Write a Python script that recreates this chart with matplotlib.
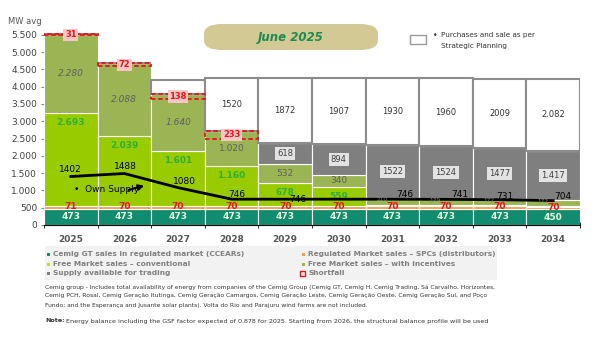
import matplotlib.pyplot as plt
from matplotlib.patches import Rectangle, FancyBboxPatch

years = ['2025', '2026', '2027', '2028', '2029', '2030', '2031', '2032', '2033', '2034']
ccear = [473, 473, 473, 473, 473, 473, 473, 473, 473, 450]
spcs = [71, 70, 70, 70, 70, 70, 70, 70, 70, 70]
free_conv = [2693, 2039, 1601, 1160, 678, 559, 30, 30, 30, 30]
free_inc = [2280, 2088, 1640, 1020, 532, 340, 210, 179, 172, 172]
trading = [0, 0, 0, 0, 618, 894, 1522, 1524, 1477, 1417]
shortfall = [31, 72, 138, 233, 0, 0, 0, 0, 0, 0]
planning = [0, 0, 410, 1520, 1872, 1907, 1930, 1960, 2009, 2082]
own_supply = [1402, 1488, 1080, 746, 746, 746, 746, 741, 731, 704]

C_TEAL = '#128C6E'
C_ORANGE = '#F0A050'
C_GREEN = '#99CC00'
C_OLIVE = '#9CB554'
C_GRAY = '#7F7F7F'
C_RED = '#E8141B'


def fmt(v, sep=True):
    s = str(int(v))
    if sep and v >= 1000:
        s = s[:-3] + '.' + s[-3:]
    return s


fig = plt.figure(figsize=(5.95, 3.38), dpi=100)
W, H = 595, 338
ax = fig.add_axes([44 / W, 1 - 225 / H, 536 / W, 197.2 / H])

x = list(range(len(years)))
bottom = [0] * len(years)


def stack(vals, color, edge='white', lw=0.8):
    global bottom
    ax.bar(x, vals, bottom=bottom, width=1.0, color=color, edgecolor=edge, linewidth=lw, zorder=2)
    mids = [b + v / 2 for b, v in zip(bottom, vals)]
    bottom = [b + v for b, v in zip(bottom, vals)]
    return mids


m_teal = stack(ccear, C_TEAL)
m_or = stack(spcs, C_ORANGE)
m_conv = stack(free_conv, C_GREEN)
conv_top = list(bottom)
m_inc = stack(free_inc, C_OLIVE)
m_tr = stack(trading, C_GRAY)
tops = list(bottom)
m_pl = stack(planning, 'white', edge='#8C8C8C', lw=1.5)

for i in x:
    ax.text(i, m_teal[i], fmt(ccear[i]), ha='center', va='center', color='#E8F5E0',
            fontsize=6.5, fontweight='bold', zorder=5)
    ax.text(i, m_or[i] + 20, fmt(spcs[i]), ha='center', va='center', color=C_RED,
            fontsize=6.5, fontweight='bold', zorder=5)
    if free_conv[i] > 100:
        ax.text(i, conv_top[i] - 270, fmt(free_conv[i]), ha='center', va='center', color='#2FAE3C',
                fontsize=6.5, fontweight='bold', zorder=5)
    if free_inc[i] > 250:
        ax.text(i, m_inc[i], fmt(free_inc[i]), ha='center', va='center', color='#5F5F5F',
                fontsize=6.5, style='italic' if i < 3 else 'normal', zorder=5)
    else:
        ax.text(i - 0.2, m_inc[i] + 50, fmt(free_inc[i]), ha='center', va='center', color='#8A8A7A',
                fontsize=4.2, zorder=9)
    if trading[i] > 0:
        ax.text(i, m_tr[i], fmt(trading[i], sep=(i == 9)), ha='center', va='center', color='#404040',
                fontsize=6, zorder=5,
                bbox=dict(boxstyle='square,pad=0.25', fc='#E3E3E3', ec='none'))
    if planning[i] > 500:
        ax.text(i, m_pl[i], fmt(planning[i], sep=(i == 9)), ha='center', va='center', color='#333333',
                fontsize=6, zorder=5)
    if shortfall[i] > 0:
        ax.add_patch(Rectangle((i - 0.5, tops[i] - shortfall[i]), 1.0, shortfall[i], fill=False,
                               ec=C_RED, lw=1.3, ls=(0, (2.5, 1.5)), zorder=6))
        ax.text(i, tops[i] - shortfall[i] / 2, fmt(shortfall[i]), ha='center', va='center',
                color=C_RED, fontsize=6, fontweight='bold', zorder=7,
                bbox=dict(boxstyle='square,pad=0.2', fc='#F9C6C6', ec='none'))

# own supply line
ax.plot(x, own_supply, color='black', lw=2, zorder=8)
lab_off = {0: (0, 1.5, 'bottom'), 1: (1, 1.5, 'bottom'), 2: (5, 1, 'bottom'), 3: (4, 0, 'bottom'),
           4: (9, 0, 'center'), 6: (9, 0, 'bottom'), 7: (10, 0, 'bottom'), 8: (4, -1, 'bottom'),
           9: (7, 0, 'bottom')}
for i, (dx, dy, va) in lab_off.items():
    ax.annotate(str(own_supply[i]), (x[i], own_supply[i]), xytext=(dx, dy), textcoords='offset points',
                ha='center', va=va, fontsize=6.5, color='black', zorder=9)
ax.text(0.06, 1040, '\u2022  Own Supply', fontsize=6.5, va='center', ha='left', zorder=9)
ax.annotate('', xy=(1.42, 1160), xytext=(1.03, 990),
            arrowprops=dict(arrowstyle='-|>', lw=1.5, color='black', mutation_scale=8), zorder=9)

ax.set_xlim(-0.5, 9.5)
ax.set_ylim(0, 5700)
ax.set_xticks(x)
ax.set_xticklabels(years)
ax.set_xticks([i - 0.5 for i in range(len(years) + 1)], minor=True)
ax.tick_params(axis='x', which='major', length=0, pad=7, labelsize=6.5, labelcolor='#555555')
ax.tick_params(axis='x', which='minor', length=4, direction='inout', color='black')
for lbl in ax.get_xticklabels():
    lbl.set_fontweight('bold')
yt = list(range(0, 5501, 500))
ax.set_yticks(yt)
ax.set_yticklabels([fmt(v) for v in yt])
ax.tick_params(axis='y', length=2, color='#808080', labelsize=6.5, labelcolor='#404040', pad=3)
for s in ['top', 'right', 'left']:
    ax.spines[s].set_visible(False)
ax.spines['bottom'].set_color('black')

fig.text(8 / W, 1 - 22 / H, 'MW avg', fontsize=6, color='#555555', va='center')

# title box
fig.patches.append(FancyBboxPatch((204 / W, 1 - 50 / H), 174 / W, 26 / H,
                                  boxstyle='round,pad=0,rounding_size=0.03', transform=fig.transFigure,
                                  fc='#D2C995', ec='none'))
fig.text(291 / W, 1 - 37 / H, 'June 2025', fontsize=8.5, style='italic', fontweight='bold',
         color='#1E8C4E', ha='center', va='center')

# top-right legend
fig.patches.append(Rectangle((410 / W, 1 - 44 / H), 16 / W, 9 / H, transform=fig.transFigure,
                             fc='white', ec='#999999', lw=1))
fig.text(433 / W, 1 - 35 / H, '\u2022', fontsize=5.5, color='#333333', va='center')
fig.text(441 / W, 1 - 35 / H, 'Purchases and sale as per', fontsize=5.2, color='#333333', va='center')
fig.text(441 / W, 1 - 46 / H, 'Strategic Planning', fontsize=5.2, color='#333333', va='center')

# bottom legend
fig.patches.append(Rectangle((45 / W, 1 - 280 / H), 452 / W, 34 / H, transform=fig.transFigure,
                             fc='#F2F2F2', ec='none'))
leg = [('Cemig GT sales in regulated market (CCEARs)', C_TEAL, 48, 254),
       ('Regulated Market sales \u2013 SPCs (distributors)', C_ORANGE, 303, 254),
       ('Free Market sales \u2013 conventional', '#CCDD00', 48, 264),
       ('Free Market sales \u2013 with incentives', C_OLIVE, 303, 264),
       ('Supply available for trading', C_GRAY, 48, 273)]
for txt, col, lx, ly in leg:
    fig.patches.append(Rectangle(((lx - 1.5) / W, 1 - (ly + 1.5) / H), 3 / W, 3 / H,
                                 transform=fig.transFigure, fc=col, ec='none'))
    fig.text((lx + 5) / W, 1 - ly / H, txt, fontsize=5.3, fontweight='bold', color='#7F7F7F', va='center')
fig.patches.append(Rectangle((300 / W, 1 - 276 / H), 5 / W, 5 / H, transform=fig.transFigure,
                             fc='none', ec=C_RED, lw=1))
fig.text(308 / W, 1 - 273 / H, 'Shortfall', fontsize=5.3, fontweight='bold', color='#7F7F7F', va='center')

foot = ['Cemig group - Includes total availability of energy from companies of the Cemig Group (Cemig GT, '
        'Cemig H, Cemig Trading, S\u00e1 Carvalho, Horizontes,',
        'Cemig PCH, Rosal, Cemig Gera\u00e7\u00e3o Itutinga, Cemig Gera\u00e7\u00e3o Camargos, Cemig Gera\u00e7\u00e3o '
        'Leste, Cemig Gera\u00e7\u00e3o Oeste, Cemig Gera\u00e7\u00e3o Sul, and Po\u00e7o',
        'Fundo; and the Esperan\u00e7a and Jusante solar plants). Volta do Rio and Parajuru wind farms are not included.']
for k, line in enumerate(foot):
    fig.text(45 / W, 1 - (287 + 9 * k) / H, line, fontsize=4.3, color='#333333', va='center')
fig.text(45 / W, 1 - 321 / H, 'Note:', fontsize=4.6, fontweight='bold', color='#333333', va='center')
fig.text(66 / W, 1 - 321 / H, 'Energy balance including the GSF factor expected of 0.878 for 2025. '
         'Starting from 2026, the structural balance profile will be used',
         fontsize=4.6, color='#333333', va='center')

fig.savefig('out.png', dpi=100)
